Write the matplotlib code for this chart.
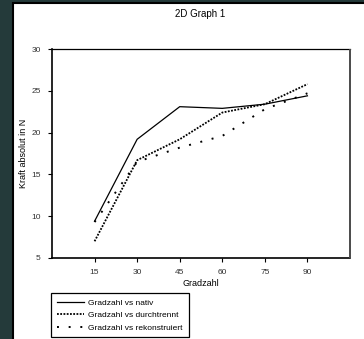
import matplotlib.pyplot as plt
from matplotlib.patches import Rectangle

plt.rcParams['font.family'] = ['Liberation Sans', 'DejaVu Sans']

# data
gradzahl = [15, 30, 45, 60, 75, 90]
nativ = [9.4, 19.2, 23.1, 22.9, 23.4, 24.4]
durchtrennt = [7.0, 16.7, 19.2, 22.4, 23.4, 25.8]
rekonstruiert = [9.3, 16.5, 18.2, 19.6, 22.8, 24.7]
x_ticks = [15, 30, 45, 60, 75, 90]
y_ticks = [5, 10, 15, 20, 25, 30]

W, H = 364, 339
fig = plt.figure(figsize=(W / 100, H / 100), dpi=100)
fig.patch.set_facecolor('#243a3a')

# white page with dark border, sitting on the dark background
page = Rectangle((13 / W, -0.01), 1.0, 1 - 3 / H + 0.01, transform=fig.transFigure,
                 facecolor='white', edgecolor='black', linewidth=1.5, zorder=-10)
fig.patches.append(page)

ax = fig.add_axes([52 / W, (H - 258) / H, (350 - 52) / W, (258 - 49) / H])
ax.set_facecolor('white')

l1, = ax.plot(gradzahl, nativ, color='black', linewidth=0.9, linestyle='-')
l2, = ax.plot(gradzahl, durchtrennt, color='black', linewidth=1.3, linestyle=(0, (1, 0.8)))
l3, = ax.plot(gradzahl, rekonstruiert, color='black', linewidth=1.4, linestyle=(0, (1, 5)))

ax.set_xlim(0, 105)
ax.set_ylim(5, 30)
ax.set_xticks(x_ticks)
ax.set_yticks(y_ticks)
ax.tick_params(labelsize=6, labelcolor='#333333', length=3, width=0.8, pad=5)

for s in ['left', 'bottom']:
    ax.spines[s].set_linewidth(1.2)
ax.spines['top'].set_linewidth(0.9)
ax.spines['right'].set_visible(False)
# gray right border of the plot frame
ax.plot([1, 1], [0, 1], transform=ax.transAxes, color='#4a4a4a',
        linewidth=1.4, clip_on=False, zorder=5, solid_capstyle='butt')

ax.set_xlabel('Gradzahl', fontsize=6.5)
ax.xaxis.set_label_coords(0.5, -(283 - 258) / 209, transform=ax.transAxes)
ax.xaxis.label.set_va('center')
ax.set_ylabel('Kraft absolut in N', fontsize=6.5)
ax.yaxis.set_label_coords(-(52 - 23) / 298, 0.5, transform=ax.transAxes)
ax.yaxis.label.set_va('center')
fig.text(200 / W, 1 - 14 / H, '2D Graph 1', fontsize=7, ha='center', va='center')

leg = fig.legend([l1, l2, l3],
                 ['Gradzahl vs nativ', 'Gradzahl vs durchtrennt', 'Gradzahl vs rekonstruiert'],
                 loc='upper left', bbox_to_anchor=(51 / W, 1 - 293 / H),
                 fontsize=6, frameon=True, fancybox=False, edgecolor='black',
                 framealpha=1, borderpad=0.7, handlelength=3.2, handletextpad=0.6,
                 labelspacing=0.55, borderaxespad=0)
leg.get_frame().set_linewidth(0.9)

fig.savefig('out.png', dpi=100, facecolor=fig.get_facecolor())
